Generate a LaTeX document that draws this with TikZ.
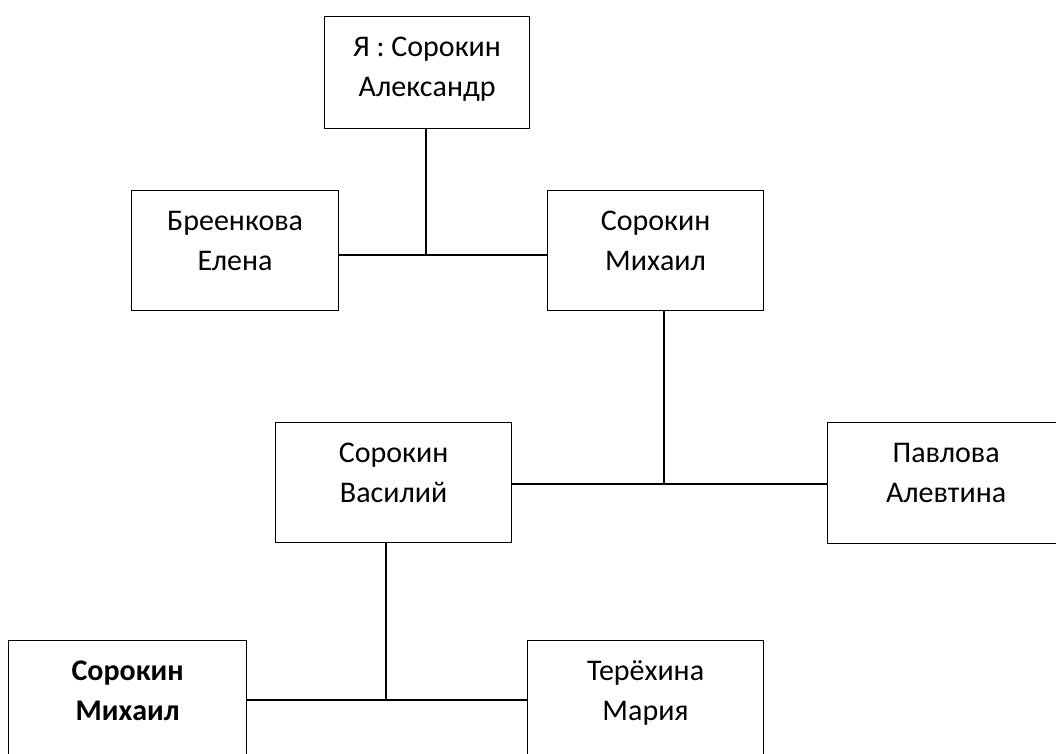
\documentclass[tikz,border=0pt]{standalone}
\usepackage{fontspec}
\setmainfont{Carlito}

\tikzset{
  card/.style={draw, line width=1.2pt, inner sep=0pt, anchor=north west,
    font={\fontsize{30}{40}\selectfont}},
  tie/.style={line width=1.2pt}
}
% text block placed at the top of each card
\newcommand{\cardtext}[3]{\parbox[t][#2][t]{#1}{\centering\rule{0pt}{40pt}#3}}

\begin{document}
\begin{tikzpicture}[x=1pt, y=-1pt]
        \useasboundingbox (0,0) rectangle (1056,753);
        \clip (0,0) rectangle (1056,753);

        \node[card] (me) at (324,16) {\cardtext{205pt}{112pt}{Я : Сорокин\\Александр}};
        \node[card] (elena) at (131,190) {\cardtext{207pt}{120pt}{Бреенкова\\Елена}};
        \node[card] (mikhail) at (547,190) {\cardtext{216pt}{120pt}{Сорокин\\Михаил}};
        \node[card] (vasily) at (275,422) {\cardtext{236pt}{120pt}{Сорокин\\Василий}};
        \node[card] (alevtina) at (827,422) {\cardtext{237pt}{121pt}{Павлова\\Алевтина}};
        \node[card] (grandson) at (8,640) {\cardtext{238pt}{120pt}{\textbf{Сорокин}\\\textbf{Михаил}}};
        \node[card] (maria) at (527,640) {\cardtext{236pt}{120pt}{Терёхина\\Мария}};

        \coordinate (m1) at (426,255);
        \coordinate (m2) at (664,484);
        \coordinate (m3) at (386,700);

        \draw[tie] (elena.east |- m1) -- (mikhail.west |- m1);
        \draw[tie] (me.south -| m1) -- (m1);

        \draw[tie] (vasily.east |- m2) -- (alevtina.west |- m2);
        \draw[tie] (mikhail.south -| m2) -- (m2);

        \draw[tie] (grandson.east |- m3) -- (maria.west |- m3);
        \draw[tie] (vasily.south -| m3) -- (m3);
\end{tikzpicture}
\end{document}
